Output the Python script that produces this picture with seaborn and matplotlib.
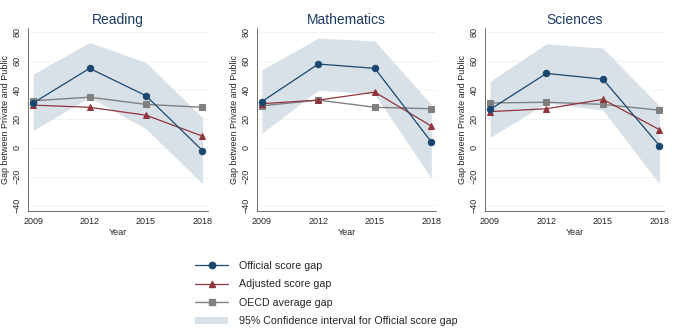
import numpy as np
import pandas as pd
import matplotlib.pyplot as plt
import seaborn as sns
from matplotlib.lines import Line2D
from matplotlib.patches import Patch

# data
years = [2009, 2012, 2015, 2018]
subjects = ["Reading", "Mathematics", "Sciences"]

official = {"Reading": [31, 55, 36, -2],
            "Mathematics": [32, 58, 55, 4],
            "Sciences": [26.5, 51.5, 47.5, 1.5]}
adjusted = {"Reading": [29.5, 28, 22.5, 8],
            "Mathematics": [30.5, 33, 38.5, 15],
            "Sciences": [25, 27, 33.5, 12.5]}
oecd = {"Reading": [32.5, 35, 30, 28],
        "Mathematics": [29, 33, 28, 27],
        "Sciences": [31, 31.5, 30, 26]}
ci_low = {"Reading": [12, 35, 13, -25],
          "Mathematics": [10, 40, 37, -21],
          "Sciences": [7, 31, 26, -25]}
ci_high = {"Reading": [51, 73, 59, 21],
           "Mathematics": [54, 76, 74, 30],
           "Sciences": [46, 72, 69, 29]}

c_off = "#1a476f"
c_adj = "#90353b"
c_oecd = "#808080"
c_ci = "#d9e1e8"

sns.set_style("white")
plt.rcParams['font.family'] = ['Liberation Sans', 'DejaVu Sans']

fig = plt.figure(figsize=(6.85, 3.33), dpi=100)
lefts = [0.041, 0.375, 0.708]
ms = 4.6

for left, subj in zip(lefts, subjects):
    ax = fig.add_axes([left, 0.366, 0.262, 0.55])
    ax.fill_between(years, ci_low[subj], ci_high[subj], color=c_ci, lw=0, zorder=1)
    sns.lineplot(x=years, y=oecd[subj], ax=ax, color=c_oecd, marker='s', markersize=ms,
                 markeredgecolor=c_oecd, lw=1, zorder=3)
    sns.lineplot(x=years, y=adjusted[subj], ax=ax, color=c_adj, marker='^', markersize=ms,
                 markeredgecolor=c_adj, lw=0.9, zorder=4)
    sns.lineplot(x=years, y=official[subj], ax=ax, color=c_off, marker='o', markersize=ms,
                 markeredgecolor=c_off, lw=0.9, zorder=5)
    ax.set_xlim(2008.73, 2018.27)
    ax.set_ylim(-44, 83)
    ax.set_xticks(years)
    ax.set_yticks(range(-40, 81, 20))
    ax.tick_params(axis='both', labelsize=6.5, length=3, width=0.6, color='#555555', pad=1.5)
    for lab in ax.get_yticklabels():
        lab.set_rotation(90)
        lab.set_va('center')
    ax.yaxis.grid(True, color='#eaf2f3', lw=0.6, zorder=0)
    ax.set_axisbelow(True)
    for s in ['top', 'right']:
        ax.spines[s].set_visible(False)
    for s in ['left', 'bottom']:
        ax.spines[s].set_color('#555555')
        ax.spines[s].set_linewidth(0.6)
    ax.set_xlabel("Year", fontsize=6.5, labelpad=1)
    ax.set_ylabel("Gap between Private and Public", fontsize=6.5, labelpad=2)
    ax.set_title(subj, fontsize=10, color="#1e3a66", pad=3)

handles = [Line2D([], [], color=c_off, marker='o', markersize=ms, lw=0.9),
           Line2D([], [], color=c_adj, marker='^', markersize=ms, lw=0.9),
           Line2D([], [], color=c_oecd, marker='s', markersize=ms, lw=1),
           Patch(facecolor=c_ci, edgecolor='none')]
labels = ["Official score gap", "Adjusted score gap", "OECD average gap",
          "95% Confidence interval for Official score gap"]
fig.legend(handles, labels, loc='upper left', bbox_to_anchor=(0.285, 0.216),
           frameon=False, fontsize=7.7, handlelength=3.1, handletextpad=1.0,
           labelspacing=0.78, borderpad=0, borderaxespad=0)

fig.savefig("out.png", dpi=100)
